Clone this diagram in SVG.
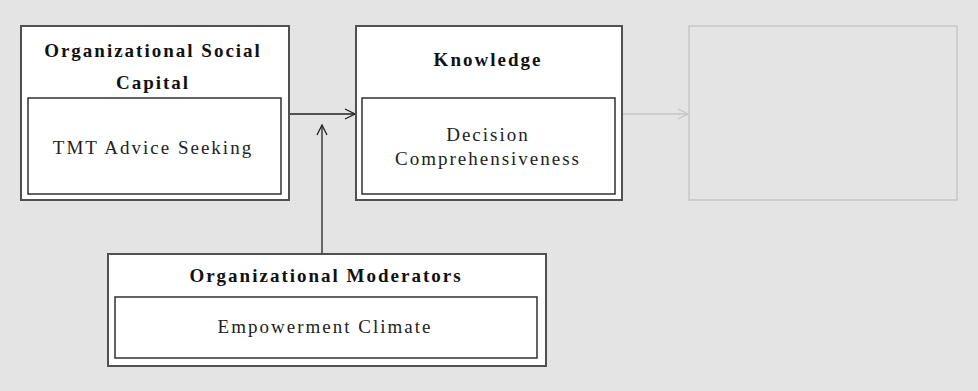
<svg xmlns="http://www.w3.org/2000/svg" width="978" height="391" viewBox="0 0 978 391">
  <defs>
    <style>
      .outer { fill: #ffffff; stroke: #505050; stroke-width: 2; }
      .inner { fill: #ffffff; stroke: #303030; stroke-width: 1.5; }
      .ghost { fill: none; stroke: #c6c6c6; stroke-width: 1.5; }
      .title { font-family: "Liberation Serif", "Times New Roman", serif; font-size: 19px; font-weight: bold; letter-spacing: 2px; fill: #111; text-anchor: middle; }
      .label { font-family: "Liberation Serif", "Times New Roman", serif; font-size: 19px; letter-spacing: 2px; fill: #222; text-anchor: middle; }
      .conn { fill: none; stroke: #222; stroke-width: 1.3; }
      .conn-ghost { fill: none; stroke: #c6c6c6; stroke-width: 1.5; }
    </style>
    <marker id="arr" viewBox="0 0 12 12" refX="11" refY="6" markerWidth="12" markerHeight="12" markerUnits="userSpaceOnUse" orient="auto">
      <path d="M1,1 L11,6 L1,11" fill="none" stroke="#222" stroke-width="1.3"/>
    </marker>
    <marker id="arr-ghost" viewBox="0 0 12 12" refX="11" refY="6" markerWidth="12" markerHeight="12" markerUnits="userSpaceOnUse" orient="auto">
      <path d="M1,1 L11,6 L1,11" fill="none" stroke="#c6c6c6" stroke-width="1.3"/>
    </marker>
  </defs>

  <rect x="0" y="0" width="978" height="391" fill="#e4e4e4"/>

  <g id="connectors">
    <line class="conn" x1="289" y1="114" x2="355" y2="114" marker-end="url(#arr)"/>
    <line class="conn" x1="322" y1="254" x2="322" y2="125" marker-end="url(#arr)"/>
    <line class="conn-ghost" x1="622" y1="114" x2="688" y2="114" marker-end="url(#arr-ghost)"/>
  </g>

  <g id="social-capital">
    <rect class="outer" x="21" y="26" width="268" height="174"/>
    <text class="title" x="153" y="57">Organizational Social</text>
    <text class="title" x="153" y="89">Capital</text>
    <rect class="inner" x="28" y="98" width="253" height="96"/>
    <text class="label" x="153" y="154">TMT Advice Seeking</text>
  </g>

  <g id="knowledge">
    <rect class="outer" x="356" y="26" width="266" height="174"/>
    <text class="title" x="488" y="66">Knowledge</text>
    <rect class="inner" x="362" y="98" width="253" height="96"/>
    <text class="label" x="488" y="141">Decision</text>
    <text class="label" x="488" y="165">Comprehensiveness</text>
  </g>

  <g id="outcome">
    <rect class="ghost" x="689" y="26" width="268" height="174"/>
  </g>

  <g id="moderators">
    <rect class="outer" x="108" y="254" width="438" height="112"/>
    <text class="title" x="326" y="282">Organizational Moderators</text>
    <rect class="inner" x="115" y="297" width="422" height="61"/>
    <text class="label" x="325" y="333">Empowerment Climate</text>
  </g>
</svg>
